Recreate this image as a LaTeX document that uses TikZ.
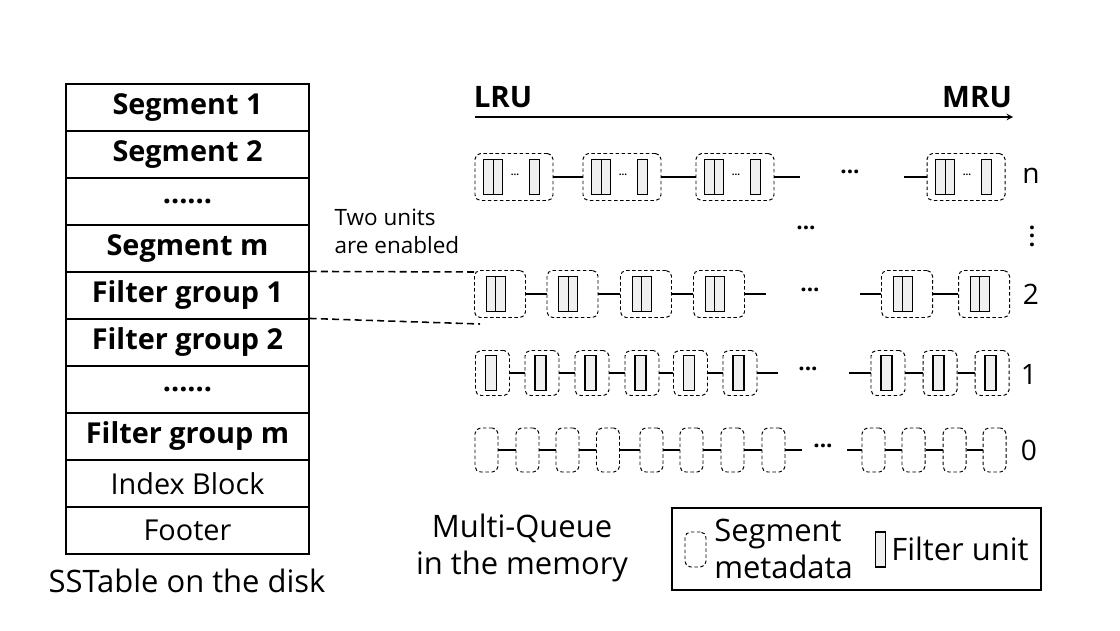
\documentclass[tikz,border=0pt]{standalone}
\usepackage{fontspec}
\setmainfont{Open Sans}
\newcommand\mysixdots{......}
\begin{document}
\begin{tikzpicture}[x=0.025cm,y=-0.025cm,
  cell/.style={draw,line width=0.8pt,minimum width=243*0.025cm,minimum height=47*0.025cm,inner sep=0,font=\fontsize{20.5}{22}\selectfont},
  seg/.style={draw,line width=0.7pt,dash pattern=on 2.5pt off 1.8pt,rounded corners=4pt,inner sep=0},
  fu/.style={draw,fill=gray!12,line width=0.9pt,minimum width=9.5*0.025cm,minimum height=35*0.025cm,inner sep=0},
  link/.style={line width=1.4pt},
  lbl/.style={font=\fontsize{20}{22}\selectfont},
  dts/.style={font=\bfseries\fontsize{16}{18}\selectfont},
  txt/.style={font=\fontsize{22}{26}\selectfont,align=center}]
\useasboundingbox (0,0) rectangle (1120,631);
% table
\foreach \t [count=\i] in {{\bfseries Segment 1},{\bfseries Segment 2},{\bfseries\mysixdots},{\bfseries Segment m},{\bfseries Filter group 1},{\bfseries Filter group 2},{\bfseries\mysixdots},{\bfseries Filter group m},{Index Block},{Footer}}
  \node[cell] (r\i) at (187.5,{84+47*(\i-1)+23.5}) {\t};
\node[txt] (sst) at (187,581) {SSTable on the disk};
\node[txt,font=\fontsize{16}{20}\selectfont,align=left] (two) at (397,231) {Two units\\are enabled};
\coordinate (d1) at (475,272);
\coordinate (d2) at (480,324);
\draw[line width=1.1pt,dash pattern=on 5pt off 3pt] (r5.north east) -- (d1);
\draw[line width=1.1pt,dash pattern=on 5pt off 3pt] (r6.north east) -- (d2);
% LRU/MRU
\node[font=\bfseries\fontsize{21}{22}\selectfont] (lru) at (503,97) {LRU};
\node[font=\bfseries\fontsize{21}{22}\selectfont] (mru) at (977,97) {MRU};
\coordinate (a1) at (475,117); \coordinate (a2) at (1013,117);
\draw[line width=1pt,-stealth] (a1) -- (a2);
% row n
\foreach \c [count=\i] in {514,622,735,966}{
  \node[seg,minimum width=78*0.025cm,minimum height=47*0.025cm] (n\i) at (\c,177) {};
  \node[fu] (na\i) at (\c-25.5,177) {};
  \node[fu] (nb\i) at (\c-16,177) {};
  \node[font=\bfseries\scriptsize] (nd\i) at (\c+1,175) {...};
  \node[fu] (nc\i) at (\c+20.5,177) {};
}
\draw[link] (n1) -- (n2); \draw[link] (n2) -- (n3);
\coordinate (ne3) at (800,177); \coordinate (ns4) at (904,177);
\draw[link] (n3) -- (ne3); \draw[link] (ns4) -- (n4);
\node[dts] (dn) at (850,172) {...};
\node[lbl] (ln) at (1031,176) {n};
\node[dts] (vd) at (806,228) {...};
\node[font=\bfseries\fontsize{16}{6}\selectfont,align=center,inner sep=0] (vv) at (1032,236) {.\\.\\.};
% row 2
\foreach \c [count=\i] in {500,572.5,646,719,907,984}{
  \node[seg,minimum width=51*0.025cm,minimum height=47*0.025cm] (t\i) at (\c,294) {};
  \node[fu] (ta\i) at (\c-9,294) {};
  \node[fu] (tb\i) at (\c+0.5,294) {};
}
\foreach \a/\b in {1/2,2/3,3/4,5/6} \draw[link] (t\a) -- (t\b);
\coordinate (te4) at (766,294); \coordinate (ts5) at (860,294);
\draw[link] (t4) -- (te4); \draw[link] (ts5) -- (t5);
\node[dts] (dd2) at (810,290) {...};
\node[lbl] (l2) at (1031,294) {2};
% row 1
\foreach \c [count=\i] in {492.5,542,592,642,690.5,740,888,940,992}{
  \node[seg,minimum width=34*0.025cm,minimum height=45*0.025cm] (o\i) at (\c,373) {};
  \node[fu,minimum width=11*0.025cm] (of\i) at (\c-1.5,373) {};
}
\foreach \a/\b in {1/2,2/3,3/4,4/5,5/6,7/8,8/9} \draw[link] (o\a) -- (o\b);
\coordinate (oe6) at (778,373); \coordinate (os7) at (849,373);
\draw[link] (o6) -- (oe6); \draw[link] (os7) -- (o7);
\node[dts] (d1x) at (808,369) {...};
\node[lbl] (l1) at (1029,374) {1};
% row 0
\foreach \c [count=\i] in {486.5,527.5,567.5,608,651.5,691.5,732.5,773.5,873.5,913.5,954.5,994.5}{
  \node[seg,minimum width=23*0.025cm,minimum height=44*0.025cm] (z\i) at (\c,450) {};
}
\foreach \a/\b in {1/2,2/3,3/4,4/5,5/6,6/7,7/8,9/10,10/11,11/12} \draw[link] (z\a) -- (z\b);
\coordinate (ze8) at (802,450); \coordinate (zs9) at (847,450);
\draw[link] (z8) -- (ze8); \draw[link] (zs9) -- (z9);
\node[dts] (d0) at (823,446) {...};
\node[lbl] (l0) at (1029,450) {0};
% captions / legend
\node[txt] (mq) at (522,548) {Multi-Queue\\in the memory};
\node[draw,line width=1pt,minimum width=369*0.025cm,minimum height=82*0.025cm] (leg) at (856.5,549) {};
\node[seg,minimum width=21*0.025cm,minimum height=35*0.025cm] (lseg) at (695.5,549.5) {};
\node[txt,align=left,anchor=west,inner sep=0] (lsegt) at (714,549) {Segment\\metadata};
\node[fu] (lfu) at (880.5,549.5) {};
\node[txt,anchor=west,inner sep=0] (lfut) at (891,549) {Filter unit};
\end{tikzpicture}
\end{document}
